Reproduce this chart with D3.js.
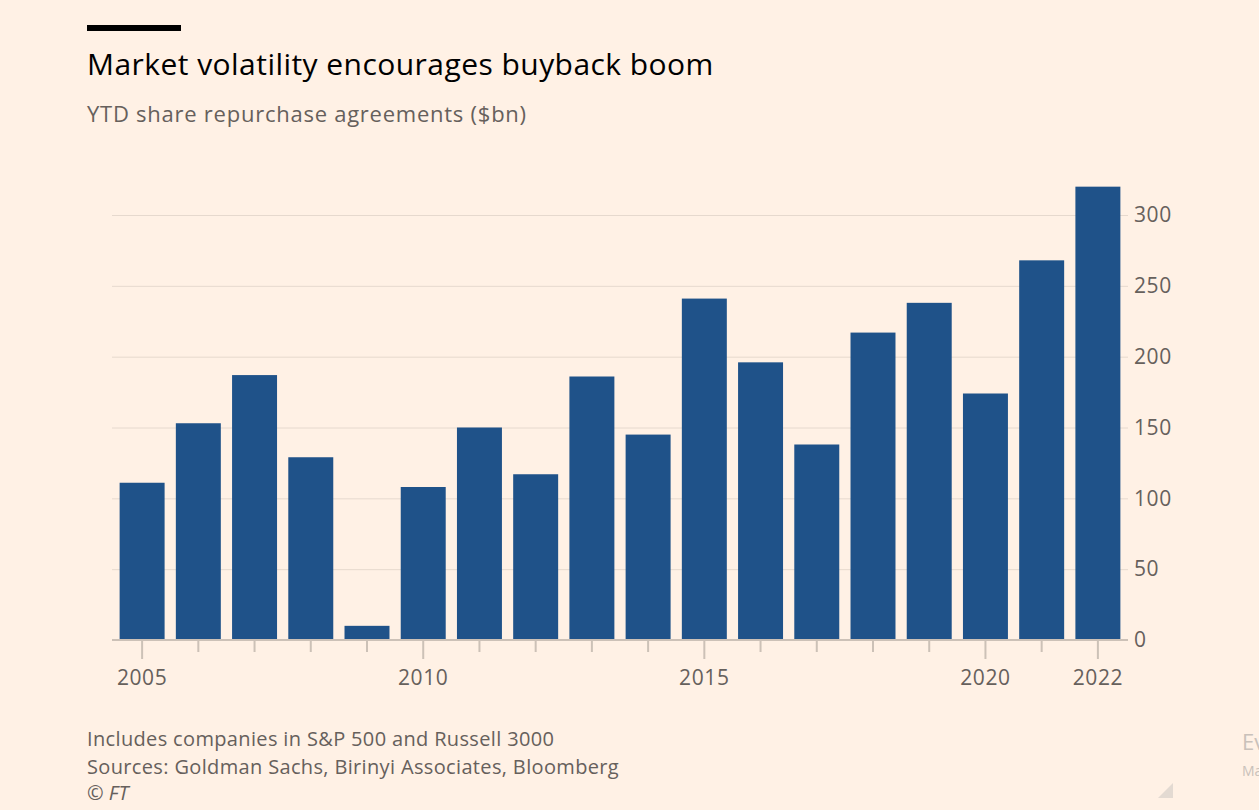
<!DOCTYPE html>
<html>
<head>
<meta charset="utf-8">
<script src="https://cdn.jsdelivr.net/npm/d3@7"></script>
<style>
  body { margin: 0; background: #fff1e5; }
  svg { display: block; font-family: "Open Sans", sans-serif; }
</style>
</head>
<body>
<div id="chart"></div>
<script>
// years and YTD buybacks ($bn)
let years = [2005, 2006, 2007, 2008, 2009, 2010, 2011, 2012, 2013, 2014,
             2015, 2016, 2017, 2018, 2019, 2020, 2021, 2022];
let values = [111, 153, 187, 129, 10, 108, 150, 117, 186, 145,
              241, 196, 138, 217, 238, 174, 268, 320];
let yTicks = [0, 50, 100, 150, 200, 250, 300];
let labelledYears = [2005, 2010, 2015, 2020, 2022];

let width = 1259,
    height = 810;

let svg = d3.select('#chart').append('svg')
    .attr('width', width)
    .attr('height', height);

svg.append('rect')
    .attr('width', width).attr('height', height)
    .attr('fill', '#fff1e5');

//----------------------------------------
// Headings
svg.append('rect')
    .attr('x', 87).attr('y', 25)
    .attr('width', 94).attr('height', 6)
    .attr('fill', '#000');

svg.append('text')
    .attr('x', 87).attr('y', 75)
    .attr('font-size', 30)
    .attr('letter-spacing', 0.45)
    .attr('fill', '#000')
    .text('Market volatility encourages buyback boom');

svg.append('text')
    .attr('x', 87).attr('y', 122)
    .attr('font-size', 22)
    .attr('letter-spacing', 0.75)
    .attr('fill', '#66605c')
    .text('YTD share repurchase agreements ($bn)');

//----------------------------------------
// Scales
let x = d3.scaleBand()
    .domain(years)
    .range([114, 1126])
    .paddingInner(0.2)
    .paddingOuter(0.1);

let y = d3.scaleLinear()
    .domain([0, 300])
    .range([640, 215]);

// gridlines + y labels (right side)
let yAxis = svg.append('g')
    .attr('transform', 'translate(1128,0)')
    .call(d3.axisRight(y).tickValues(yTicks).tickSize(0).tickPadding(6));
yAxis.select('.domain').remove();
yAxis.selectAll('.tick line')
    .attr('x1', -1016).attr('x2', 0)
    .attr('stroke', '#e6d9ce').attr('stroke-width', 1);
yAxis.selectAll('.tick text')
    .attr('font-size', 21)
    .attr('letter-spacing', 0.6)
    .attr('font-family', '"Open Sans", sans-serif')
    .attr('fill', '#66605c');

//----------------------------------------
// Bars
svg.selectAll('rect.bar')
    .data(values)
    .enter()
    .append('rect')
    .attr('class', 'bar')
    .attr('x', (d, i) => x(years[i]))
    .attr('width', x.bandwidth())
    .attr('y', d => y(d))
    .attr('height', d => y(0) - y(d))
    .attr('fill', '#1f5289');

// x axis
let xAxis = svg.append('g')
    .attr('transform', 'translate(0,640)')
    .call(d3.axisBottom(x).tickSize(0).tickPadding(30)
        .tickFormat(d => labelledYears.includes(d) ? d : ''));
xAxis.select('.domain')
    .attr('d', 'M112,0H1128')
    .attr('stroke', '#ccc1b7').attr('stroke-width', 2);
xAxis.selectAll('.tick line')
    .attr('y2', d => labelledYears.includes(d) ? 19 : 12)
    .attr('stroke', '#ccc1b7').attr('stroke-width', 2);
xAxis.selectAll('.tick text')
    .attr('font-size', 21)
    .attr('letter-spacing', 0.6)
    .attr('font-family', '"Open Sans", sans-serif')
    .attr('fill', '#66605c');

//----------------------------------------
// Footer
let notes = ['Includes companies in S&P 500 and Russell 3000',
             'Sources: Goldman Sachs, Birinyi Associates, Bloomberg'];
svg.selectAll('text.note')
    .data(notes)
    .enter()
    .append('text')
    .attr('class', 'note')
    .attr('x', 87)
    .attr('y', (d, i) => 746 + i * 28)
    .attr('font-size', 20)
    .attr('letter-spacing', 0.35)
    .attr('fill', '#66605c')
    .text(d => d);

svg.append('text')
    .attr('x', 87).attr('y', 800)
    .attr('font-size', 20)
    .attr('font-style', 'italic')
    .attr('fill', '#66605c')
    .text('© FT');

// cropped page elements at the right edge (cut off in the reference too)
svg.append('text')
    .attr('x', 1242).attr('y', 750)
    .attr('font-size', 22)
    .attr('fill', '#c9c1ba')
    .text('Ev');
svg.append('text')
    .attr('x', 1242).attr('y', 776)
    .attr('font-size', 14)
    .attr('fill', '#c9c1ba')
    .text('Ma');
svg.append('path')
    .attr('d', 'M1173,783L1173,798L1158,798Z')
    .attr('fill', '#e3dad2');
</script>
</body>
</html>
